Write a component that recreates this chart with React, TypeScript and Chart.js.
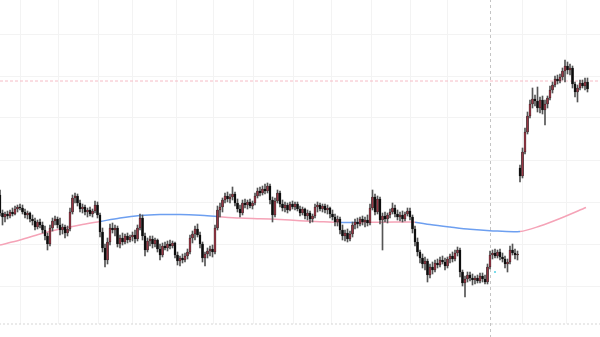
import { useEffect, useRef } from 'react';
import { Chart, registerables } from 'chart.js';

Chart.register(...registerables);

// Candle data (one candle per index)
const opens = [129,111,107,110,108,112,110,115,117,116,112,109,111,105,103,97,102,99,94,88,80,96,103,105,99,94,97,91,95,112,126,128,121,115,117,112,114,110,113,119,109,92,76,64,82,96,94,96,80,86,82,88,84,87,89,85,96,106,88,74,83,85,80,84,75,69,78,76,80,78,81,69,63,66,64,68,72,86,90,95,89,80,66,70,73,75,72,96,114,117,124,128,125,127,130,121,115,111,121,119,122,118,121,128,133,131,135,133,138,124,109,123,131,120,116,119,114,120,117,120,115,111,115,108,111,105,108,117,119,115,118,114,116,110,107,102,105,94,88,91,85,90,99,102,100,105,102,104,101,116,127,112,125,104,108,105,109,112,116,110,107,109,105,110,113,107,95,82,72,66,60,63,49,57,54,61,59,64,62,58,65,68,65,71,74,52,41,45,49,46,44,46,43,48,45,42,57,69,71,68,72,67,65,60,62,74,71,69,156,148,172,192,208,220,225,223,216,224,214,220,226,234,239,245,243,247,253,258,254,256,240,232,236,241,238,242];
const highs = [134,114,112,113,114,116,118,119,120,119,115,113,112,109,106,104,105,102,98,91,99,106,108,107,106,100,99,98,116,129,131,130,124,120,119,116,117,115,123,122,111,96,80,86,100,101,99,98,89,91,90,91,89,92,94,99,110,109,91,86,88,88,86,85,80,81,82,83,84,83,82,72,68,70,71,75,89,93,98,100,92,82,72,76,78,79,99,118,121,126,131,132,130,137,132,125,119,124,125,124,125,123,131,136,137,138,140,141,140,127,126,134,133,124,122,121,122,123,122,122,118,117,116,114,113,110,120,122,121,120,120,119,117,114,110,108,107,99,94,95,93,102,105,106,107,108,107,109,120,134,130,128,127,111,112,111,115,121,119,114,112,113,112,116,116,109,98,86,74,70,67,65,60,62,64,65,67,68,66,67,70,72,74,77,76,54,48,52,52,50,48,49,51,51,49,60,73,74,75,74,75,71,68,65,78,80,75,73,159,176,196,212,224,236,229,237,227,228,224,228,238,242,248,249,250,256,264,262,260,258,242,239,244,244,246,246];
const lows = [108,99,102,105,106,108,109,112,114,110,106,105,102,99,94,95,96,91,84,74,78,93,99,96,89,90,86,88,93,110,121,118,112,111,109,107,108,107,111,106,87,72,57,60,79,91,88,77,76,79,80,81,82,83,81,83,94,84,68,72,78,76,77,72,64,67,74,73,75,76,66,59,58,61,62,65,70,81,84,87,76,62,58,66,68,67,70,94,107,112,121,122,121,124,118,112,107,109,116,115,116,115,119,126,128,129,130,131,120,102,107,121,117,113,112,111,113,115,114,113,108,109,105,104,101,102,106,112,113,112,111,110,106,104,98,98,90,84,83,82,83,87,95,96,98,99,97,98,99,114,109,110,100,74,102,101,106,110,107,104,103,102,103,108,104,91,78,68,61,56,54,42,46,50,52,56,57,60,54,56,61,62,63,68,47,38,27,42,43,39,40,41,41,42,40,40,55,65,66,66,64,62,56,52,60,69,65,64,142,146,170,190,206,216,218,212,211,210,199,216,224,231,237,240,241,244,242,250,249,236,227,222,234,236,234,232];
const closes = [111,107,110,108,112,110,115,117,116,112,109,111,105,103,97,102,99,94,88,80,96,103,105,99,94,97,91,95,112,126,128,121,115,117,112,114,110,113,119,109,92,76,64,82,96,94,96,80,86,82,88,84,87,89,85,96,106,88,74,83,85,80,84,75,69,78,76,80,78,81,69,63,66,64,68,72,86,90,95,89,80,66,70,73,75,72,96,114,117,124,128,125,127,130,121,115,111,121,119,122,118,121,128,133,131,135,133,138,124,109,123,131,120,116,119,114,120,117,120,115,111,115,108,111,105,108,117,119,115,118,114,116,110,107,102,105,94,88,91,85,90,99,102,100,105,102,104,101,116,127,112,125,104,108,105,109,112,116,110,107,109,105,110,113,107,95,82,72,66,60,63,49,57,54,61,59,64,62,58,65,68,65,71,74,52,41,45,49,46,44,46,43,48,45,42,57,69,71,68,72,67,65,60,62,74,71,69,70,148,172,192,208,220,225,223,216,224,214,220,226,234,239,245,243,247,253,258,254,256,240,232,236,241,238,242,235];

// Moving average (read at key points)
const maIndex = [0, 8, 16, 24, 32, 40, 48, 56, 64, 72, 80, 86.8, 96, 104, 112, 120, 128, 136, 144, 152, 164, 166, 172, 180, 188, 196, 208, 216, 224, 234.4];
const maValues = [79, 84, 90, 95, 99, 102.5, 106, 108.5, 109.5, 109.5, 108.7, 107.5, 106, 105.3, 104.5, 103.3, 102.3, 101.5, 101.5, 101.8, 102, 101.8, 99.5, 97, 94.7, 93.3, 92.5, 98, 105.5, 116.5];
const maTrend = ['above','above','above','above','above','below','below','below','below','below','below','above','above','above','above','above','above','below','above','above','above','below','below','below','below','below','above','above','above','above'];

// Grid / reference levels
const yGridValues = [38, 80, 122, 164, 206, 248, 290];
const xGridIndex = [8, 23.2, 39.2, 52.8, 70.4, 85.6, 101.2, 117.2, 132.4, 148.4, 164, 179.2, 208.8, 226.4];
const markerIndex = 196.2;
const referenceLevel = 243;
const baseLevel = 0;
const signalPoint = { x: 198, y: 52 };

const UP = '#983644';
const DOWN = '#0c0c0c';
const WICK = '#555555';
const PINK = '#f5a3b7';
const BLUE = '#6d9ff0';
const GRID = '#f3f3f3';

export default function App() {
  const ref = useRef<HTMLCanvasElement | null>(null);

  useEffect(() => {
    document.body.style.margin = '0';
    const canvas = ref.current;
    if (!canvas) return;

    const bodies = opens.map((o, i) => ({ x: i, y: [o, closes[i]] }));
    const wicks = highs.map((h, i) => ({ x: i, y: [lows[i], h] }));
    const bodyColors = opens.map((o, i) => (closes[i] >= o ? UP : DOWN));
    const ma = maIndex.map((x, i) => ({ x, y: maValues[i] }));

    const chart = new Chart(canvas, {
      type: 'bar',
      data: {
        datasets: [
          {
            type: 'line',
            data: [
              { x: -2, y: baseLevel },
              { x: 242, y: baseLevel },
            ],
            borderColor: '#d6d6d6',
            borderWidth: 1,
            borderDash: [2, 2],
            pointRadius: 0,
            clip: false,
            order: 6,
          } as any,
          {
            type: 'line',
            data: [
              { x: -2, y: referenceLevel },
              { x: 242, y: referenceLevel },
            ],
            borderColor: '#f6bcc6',
            borderWidth: 1,
            borderDash: [3, 2],
            pointRadius: 0,
            order: 5,
          } as any,
          {
            type: 'line',
            data: [
              { x: markerIndex, y: -14 },
              { x: markerIndex, y: 330 },
            ],
            borderColor: '#c4c4c4',
            borderWidth: 1,
            borderDash: [3, 3],
            pointRadius: 0,
            clip: false,
            order: 5,
          } as any,
          {
            type: 'line',
            data: ma,
            borderWidth: 1.5,
            pointRadius: 0,
            tension: 0.3,
            segment: {
              borderColor: (ctx: any) => (maTrend[ctx.p0DataIndex] === 'above' ? PINK : BLUE),
            },
            borderColor: PINK,
            order: 4,
          } as any,
          {
            type: 'bar',
            data: wicks,
            backgroundColor: WICK,
            borderWidth: 0,
            barThickness: 1,
            grouped: false,
            minBarLength: 1,
            order: 3,
          } as any,
          {
            type: 'bar',
            data: bodies,
            backgroundColor: bodyColors,
            borderColor: '#111111',
            borderWidth: 0.5,
            borderSkipped: false,
            barThickness: 2,
            grouped: false,
            minBarLength: 1,
            order: 2,
          } as any,
          {
            type: 'line',
            data: [signalPoint],
            showLine: false,
            pointRadius: 1,
            pointBackgroundColor: '#4fd0e4',
            pointBorderWidth: 0,
            order: 1,
          } as any,
        ],
      },
      options: {
        responsive: false,
        animation: false,
        devicePixelRatio: 1,
        layout: { autoPadding: false, padding: { left: 0, right: 0, top: 0, bottom: 13 } },
        plugins: { legend: { display: false }, tooltip: { enabled: false } },
        scales: {
          x: {
            type: 'linear',
            min: 0,
            max: 240,
            offset: false,
            afterBuildTicks: (axis: any) => {
              axis.ticks = xGridIndex.map((v) => ({ value: v }));
            },
            ticks: { display: false },
            grid: { color: GRID, drawTicks: false, offset: false },
            border: { display: false },
          },
          y: {
            type: 'linear',
            min: 0,
            max: 324,
            afterBuildTicks: (axis: any) => {
              axis.ticks = yGridValues.map((v) => ({ value: v }));
            },
            ticks: { display: false },
            grid: { color: GRID, drawTicks: false },
            border: { display: false },
          },
        },
      } as any,
    });

    return () => chart.destroy();
  }, []);

  return (
    <canvas
      ref={ref}
      width={600}
      height={337}
      style={{ position: 'absolute', left: 0, top: 0, width: 600, height: 337, display: 'block' }}
    />
  );
}
